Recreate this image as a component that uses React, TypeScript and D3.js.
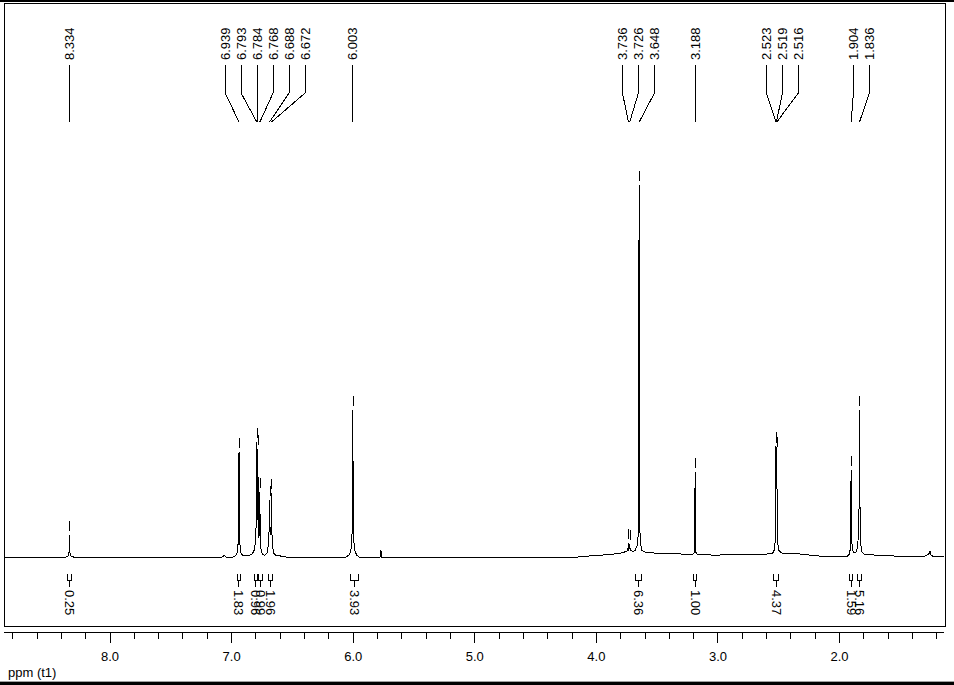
import React from "react";
import * as d3 from "d3";

// ---- data ----
const peakLabels = ["8.334", "6.939", "6.793", "6.784", "6.768", "6.688", "6.672", "6.003", "3.736", "3.726", "3.648", "3.188", "2.523", "2.519", "2.516", "1.904", "1.836"];
const peakHeights = [5.9, 28.3, 30.9, 29, 17.5, 15.3, 17.2, 39.5, 3.8, 3.4, 100, 22.8, 29.8, 29.5, 28.5, 23.3, 39.5];

const integralFrom = [8.35, 6.955, 6.815, 6.775, 6.70, 6.02, 3.675, 3.20, 2.54, 1.92, 1.85];
const integralTo = [8.32, 6.925, 6.79, 6.75, 6.66, 5.96, 3.63, 3.175, 2.50, 1.89, 1.82];
const integralValues = ["0.25", "1.83", "0.96", "0.99", "1.96", "3.93", "6.36", "1.00", "4.37", "1.59", "5.16"];

const majorTicks = [8, 7, 6, 5, 4, 3, 2];
const majorTickLabels = ["8.0", "7.0", "6.0", "5.0", "4.0", "3.0", "2.0"];
const axisTitle = "ppm (t1)";

// spectrum trace: [ppm, intensity]
const spectrum: [number, number][] = [
  [8.872, 0], [8.36, 0], [8.341, 0.4], [8.337, 1.5], [8.334, 5.9], [8.331, 1.5], [8.327, 0.4], [8.30, 0],
  [7.08, 0], [7.065, 0.3], [7.055, 0.3], [7.045, 0],
  [6.99, 0], [6.965, 0.4], [6.952, 1.2], [6.945, 4.5], [6.942, 9], [6.939, 28.3], [6.936, 8], [6.932, 3.5], [6.925, 1.2], [6.91, 0.4],
  [6.86, 0.4], [6.83, 0.8], [6.812, 2], [6.802, 5], [6.797, 10], [6.793, 30.9], [6.789, 12], [6.787, 10], [6.784, 29], [6.781, 8], [6.776, 5], [6.772, 7], [6.768, 17.5], [6.765, 6], [6.758, 2], [6.745, 0.6],
  [6.725, 0.5], [6.705, 1.3], [6.697, 4], [6.692, 7], [6.688, 15.3], [6.684, 7], [6.680, 6], [6.676, 8], [6.672, 17.2], [6.668, 6], [6.662, 2.5], [6.652, 1], [6.635, 0.3],
  [6.60, 0.3], [6.585, 0], [6.57, 0.3], [6.555, 0],
  [6.06, 0], [6.035, 0.5], [6.02, 1.6], [6.012, 4], [6.007, 9], [6.005, 20], [6.003, 39.5], [6.001, 20], [5.999, 9], [5.994, 4], [5.986, 1.6], [5.97, 0.5], [5.95, 0],
  [5.78, 0], [5.772, 1.8], [5.766, 0],
  [4.15, 0], [4.05, 0.3], [3.92, 0.6], [3.82, 0.9], [3.78, 1.2], [3.755, 1.5], [3.742, 1.8], [3.738, 3], [3.736, 3.8], [3.733, 2], [3.729, 2.2], [3.726, 3.4], [3.722, 1.8], [3.70, 1.5], [3.68, 1.8], [3.666, 3], [3.66, 5.2], [3.655, 5.5], [3.652, 30], [3.650, 77], [3.648, 100], [3.646, 60], [3.644, 20], [3.641, 6], [3.636, 3.5], [3.625, 1.8], [3.60, 1.3], [3.50, 1.0], [3.40, 0.9], [3.30, 0.8], [3.21, 0.7], [3.195, 1.2], [3.191, 4], [3.188, 22.8], [3.185, 4], [3.181, 1.2], [3.17, 0.6],
  [3.0, 0.5], [2.85, 0.8], [2.70, 0.7], [2.60, 0.8], [2.55, 1.0], [2.538, 1.8], [2.530, 4], [2.526, 10], [2.523, 29.8], [2.521, 28], [2.519, 29.5], [2.517, 28], [2.516, 28.5], [2.513, 9], [2.509, 4], [2.500, 1.8], [2.48, 1.1], [2.40, 0.9], [2.32, 0.8], [2.22, 0.4], [2.10, 0.1], [1.98, 0],
  [1.94, 0.1], [1.922, 0.7], [1.912, 2], [1.908, 5], [1.906, 20], [1.904, 23.3], [1.902, 22], [1.900, 5], [1.895, 2], [1.885, 1.2], [1.865, 1.2], [1.852, 2.5], [1.845, 6], [1.840, 12], [1.838, 30], [1.836, 39.5], [1.834, 29], [1.831, 8], [1.826, 3.5], [1.818, 1.5], [1.80, 0.8], [1.75, 0.6], [1.65, 0.4], [1.50, 0.2], [1.40, 0.1], [1.33, 0],
  [1.29, 0.3], [1.27, 0.7], [1.261, 1], [1.257, 1.7], [1.253, 0.7], [1.24, 0.3], [1.21, 0.1], [1.141, 0],
];

const W = 954;
const H = 685;
const FONT = "'Liberation Sans', Arial, sans-serif";

function layoutLabels(xs: number[], spacing: number, shift: number): number[] {
  type C = { idx: number[] };
  let clusters: C[] = xs.map((_, i) => ({ idx: [i] }));
  const center = (c: C) => d3.mean(c.idx, (i) => xs[i])! + (c.idx.length > 1 ? shift : 0);
  const start = (c: C) => center(c) - ((c.idx.length - 1) / 2) * spacing;
  const end = (c: C) => center(c) + ((c.idx.length - 1) / 2) * spacing;
  let changed = true;
  while (changed) {
    changed = false;
    for (let k = 0; k < clusters.length - 1; k++) {
      if (start(clusters[k + 1]) - end(clusters[k]) < spacing) {
        clusters[k] = { idx: clusters[k].idx.concat(clusters[k + 1].idx) };
        clusters.splice(k + 1, 1);
        changed = true;
        break;
      }
    }
  }
  const out: number[] = new Array(xs.length);
  clusters.forEach((c) => {
    const s = start(c);
    c.idx.forEach((i, j) => (out[i] = s + j * spacing));
  });
  return out;
}

export default function App() {
  const x = d3.scaleLinear().domain([8.872, 1.141]).range([4, 944]);
  const y = d3.scaleLinear().domain([0, 100]).range([557, 185]);

  const line = d3
    .line<[number, number]>()
    .x((d) => x(d[0]))
    .y((d) => y(d[1]));

  const peakPpm = peakLabels.map((s) => +s);
  const peakX = peakPpm.map((p) => x(p));
  const labelX = layoutLabels(peakX, 16, 6);

  const minorTicks = d3.range(12, 89, 2).map((v) => v / 10).filter((v) => !majorTicks.includes(v));

  const axisY = 632.5;
  const frameTop = 3.5;
  const frameBottom = 626.5;

  return (
    <svg
      width={W}
      height={H}
      style={{ position: "absolute", left: 0, top: 0, background: "#fff" }}
      fontFamily={FONT}
    >
      <rect x={0} y={0} width={W} height={H} fill="#fff" />
      {/* window edges */}
      <rect x={0} y={0} width={W} height={2} fill="#000" />
      <rect x={0} y={681} width={W} height={1} fill="#a0a0a0" />
      <rect x={0} y={682} width={W} height={3} fill="#000" />

      {/* plot frame */}
      <rect
        x={4.5}
        y={frameTop}
        width={941}
        height={frameBottom - frameTop}
        fill="none"
        stroke="#000"
        strokeWidth={1}
        shapeRendering="crispEdges"
      />

      {/* spectrum */}
      <path d={line(spectrum) || ""} fill="none" stroke="#000" strokeWidth={1} shapeRendering="crispEdges" />

      {/* peak pick markers */}
      {peakPpm.map((p, i) => (
        <line
          key={"m" + i}
          x1={Math.round(peakX[i]) + 0.5}
          x2={Math.round(peakX[i]) + 0.5}
          y1={y(peakHeights[i]) - 14}
          y2={y(peakHeights[i]) - 4}
          stroke="#000"
          shapeRendering="crispEdges"
        />
      ))}

      {/* peak labels + connectors */}
      {peakLabels.map((lab, i) => (
        <g key={"p" + i}>
          <path
            d={`M${labelX[i]},65 L${labelX[i]},93 L${peakX[i]},122`}
            fill="none"
            stroke="#000"
            strokeWidth={1}
            shapeRendering="crispEdges"
          />
          <text
            transform={`translate(${labelX[i] + 4.6},60) rotate(-90)`}
            fontSize={13}
            fill="#000"
            textAnchor="start"
          >
            {lab}
          </text>
        </g>
      ))}

      {/* integrals */}
      {integralValues.map((v, i) => {
        const x1 = x(integralFrom[i]);
        const x2 = x(integralTo[i]);
        const xc = (x1 + x2) / 2;
        return (
          <g key={"i" + i}>
            <path
              d={`M${x1},574 L${x1},580 L${x2},580 L${x2},574 M${xc},580 L${xc},587`}
              fill="none"
              stroke="#000"
              strokeWidth={1}
              shapeRendering="crispEdges"
            />
            <text transform={`translate(${xc - 4.6},590) rotate(90)`} fontSize={13} fill="#000">
              {v}
            </text>
          </g>
        );
      })}

      {/* axis */}
      <line x1={4} x2={944} y1={axisY} y2={axisY} stroke="#000" shapeRendering="crispEdges" />
      {minorTicks.map((t) => (
        <line
          key={"mt" + t}
          x1={x(t)}
          x2={x(t)}
          y1={axisY}
          y2={axisY + 6}
          stroke="#000"
          shapeRendering="crispEdges"
        />
      ))}
      {majorTicks.map((t, i) => (
        <g key={"Mt" + t}>
          <line x1={x(t)} x2={x(t)} y1={axisY} y2={axisY + 10} stroke="#000" shapeRendering="crispEdges" />
          <text x={x(t)} y={661} fontSize={13} textAnchor="middle" fill="#000">
            {majorTickLabels[i]}
          </text>
        </g>
      ))}
      <text x={8} y={677} fontSize={13} fill="#000">
        {axisTitle}
      </text>
    </svg>
  );
}
